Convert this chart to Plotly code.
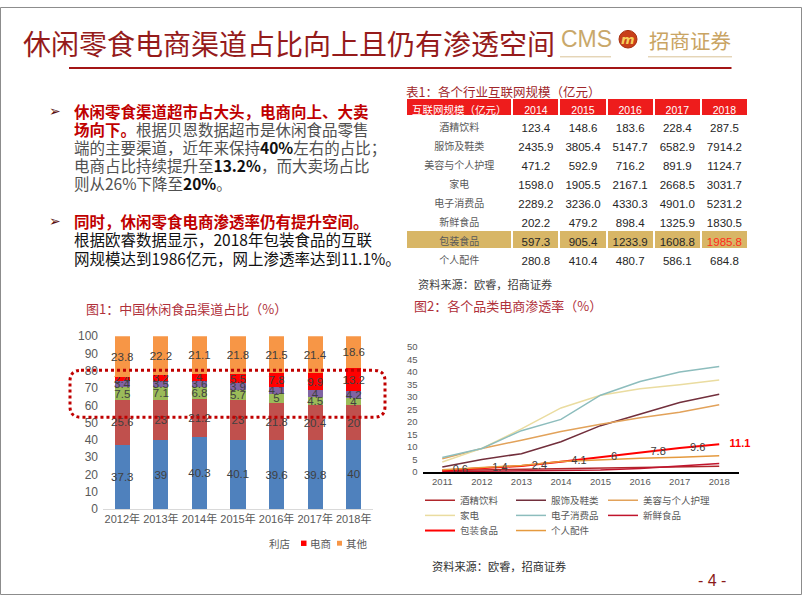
import plotly.graph_objects as go

W, H = 802, 602
def px(x): return x / W
def py(y): return 1 - y / H

CJK = "Noto Sans CJK SC"
SANS = "Liberation Sans, Noto Sans CJK SC"

# ---------------- Chart 1 data ----------------
years1 = ["2012年", "2013年", "2014年", "2015年", "2016年", "2017年", "2018年"]
supermarket = [37.3, 39, 40.3, 40.1, 39.6, 39.8, 40]
hypermarket = [25.6, 23, 21.2, 23, 21.8, 20.4, 20]
traditional = [7.5, 7.1, 6.8, 5.7, 5, 4.5, 4]
convenience = [3.4, 3.5, 3.6, 3.9, 4.1, 4, 4.2]
ecommerce = [2.4, 3.2, 4, 5.5, 7.8, 9.9, 13.2]
others = [23.8, 22.2, 21.1, 21.8, 21.5, 21.4, 18.6]
series1 = [
    ("超市", supermarket, "#4F81BD"),
    ("大卖场", hypermarket, "#C0504D"),
    ("传统渠道", traditional, "#9BBB59"),
    ("便利店", convenience, "#8064A2"),
    ("电商", ecommerce, "#FF0000"),
    ("其他", others, "#F79646"),
]

# ---------------- Chart 2 data ----------------
years2 = ["2011", "2012", "2013", "2014", "2015", "2016", "2017", "2018"]
alcohol = [0.6, 0.8, 1.0, 1.3, 1.5, 1.8, 2.0, 2.3]
apparel = [2.0, 5.0, 7.3, 12.1, 18.5, 23.0, 27.8, 31.1]
beauty = [5.3, 9.4, 12.7, 16.2, 19.1, 21.7, 23.9, 26.9]
appliances = [4.0, 9.4, 17.2, 25.6, 30.7, 33.3, 34.9, 36.8]
electronics = [5.8, 9.4, 16.5, 21.0, 30.7, 36.2, 40.0, 42.2]
fresh = [0.1, 0.2, 0.3, 0.5, 0.8, 1.4, 2.4, 3.4]
packaged = [0.6, 1.4, 2.4, 4.1, 6.0, 7.8, 9.6, 11.1]
accessories = [0.9, 1.6, 2.6, 4.2, 4.9, 5.5, 5.9, 6.5]
series2 = [
    ("酒精饮料", alcohol, "#B0262B", 1.5),
    ("服饰及鞋类", apparel, "#722F3C", 1.5),
    ("美容与个人护理", beauty, "#E2A25A", 1.5),
    ("家电", appliances, "#EADCA0", 1.5),
    ("电子消费品", electronics, "#8DBDBD", 1.5),
    ("新鲜食品", fresh, "#C0142C", 1.5),
    ("包装食品", packaged, "#FF0000", 2),
    ("个人配件", accessories, "#E59A3E", 1.5),
]

# ---------------- Table data ----------------
table_header = ["互联网规模（亿元）", "2014", "2015", "2016", "2017", "2018"]
table_cats = ["酒精饮料", "服饰及鞋类", "美容与个人护理", "家电", "电子消费品", "新鲜食品", "包装食品", "个人配件"]
t2014 = [123.4, 2435.9, 471.2, 1598.0, 2289.2, 202.2, 597.3, 280.8]
t2015 = [148.6, 3805.4, 592.9, 1905.5, 3236.0, 479.2, 905.4, 410.4]
t2016 = [183.6, 5147.7, 716.2, 2167.1, 4330.3, 898.4, 1233.9, 480.7]
t2017 = [228.4, 6582.9, 891.9, 2668.5, 4901.0, 1325.9, 1608.8, 586.1]
t2018 = [287.5, 7914.2, 1124.7, 3031.7, 5231.2, 1830.5, 1985.8, 684.8]

fig = go.Figure()

# ---- stacked bars ----
for name, vals, col in series1:
    fig.add_trace(go.Bar(
        x=years1, y=vals, name=name, marker_color=col, marker_line_width=0,
        text=[f"{v:g}" for v in vals], textposition="inside", insidetextanchor="middle",
        textangle=0, constraintext="none",
        textfont=dict(size=11.5, color="#404040", family=SANS),
        xaxis="x", yaxis="y", showlegend=False, cliponaxis=False,
    ))

# ---- lines (each legend entry in its own small legend, laid out in a 3-column grid) ----
legend_slots = [(420, 505), (511, 505), (603, 505),
                (420, 520.5), (511, 520.5), (603, 520.5),
                (420, 536), (511, 536)]
legend_defs = {}
for i, (name, vals, col, lw) in enumerate(series2):
    lg = "legend" if i == 0 else f"legend{i + 1}"
    lx, ly = legend_slots[i]
    legend_defs[lg] = dict(x=px(lx), y=py(ly), orientation="h", xanchor="left", yanchor="middle",
                           font=dict(size=9.5, color="#595959", family=CJK),
                           bgcolor="rgba(0,0,0,0)", itemwidth=30)
    fig.add_trace(go.Scatter(
        x=years2, y=vals, name=name, mode="lines",
        line=dict(color=col, width=lw),
        xaxis="x2", yaxis="y2", legend=lg, showlegend=True,
    ))

# data labels for 包装食品
pk_labels = [f"{v:g}" for v in packaged[:-1]] + [f"<b>{packaged[-1]:g}</b>"]
fig.add_trace(go.Scatter(
    x=years2, y=packaged, mode="markers+text", showlegend=False,
    marker=dict(size=15, color="rgba(0,0,0,0)"),
    text=pk_labels, textposition="middle right",
    textfont=dict(size=11, color=["#404040"] * 7 + ["#FF0000"], family=SANS),
    xaxis="x2", yaxis="y2", cliponaxis=False, hoverinfo="skip",
))

# ---- table ----
fmt = lambda arr: [f"{v:.1f}" for v in arr]
row_fill = ["white"] * 6 + ["#D8B666"] + ["white"]
fig.add_trace(go.Table(
    domain=dict(x=[px(406), px(748)], y=[py(268), py(93)]),
    columnwidth=[106, 47, 47, 47, 47, 47],
    header=dict(values=table_header, fill_color="#EE1C1C", height=18,
                line=dict(color="white", width=2), align="center",
                font=dict(color="white", size=10.5, family=SANS)),
    cells=dict(values=[table_cats, fmt(t2014), fmt(t2015), fmt(t2016), fmt(t2017), fmt(t2018)],
               fill_color=[row_fill] * 6, height=19,
               line=dict(color="white", width=2), align="center",
               font=dict(size=[10, 11.5, 11.5, 11.5, 11.5, 11.5],
                         color=[["#595959"] * 8] + [["#262626"] * 8] * 4 + [["#262626"] * 6 + ["#FF2A1A", "#262626"]],
                         family=SANS)),
))

annotations = []
def ann(x, y, text, size, color, anchor="left", family=CJK, yanchor="middle"):
    annotations.append(dict(x=px(x), y=py(y), xref="paper", yref="paper", text=text,
                            showarrow=False, xanchor=anchor, yanchor=yanchor,
                            font=dict(size=size, color=color, family=family)))

# Title
ann(21, 37, "休闲零食电商渠道占比向上且仍有渗透空间", 28, "#951B1B")
ann(559, 33, "CMS", 23, "#C9A86A", family="Liberation Sans")
ann(628, 33, "<b><i>m</i></b>", 13, "#F6CF5C", anchor="center", family="DejaVu Sans")
ann(647, 34, "招商证券", 20.5, "#C9A463")

# Body text
RED = "#C00000"
GRAY = "#505050"
ann(47, 106.5, "➢", 14, "#5A1010", family="DejaVu Sans")
ann(72, 106.5, "<b>休闲零食渠道超市占大头，电商向上、大卖</b>", 15.5, RED)
ann(72, 124.5, f"<b>场向下。</b><span style='color:{GRAY}'>根据贝恩数据超市是休闲食品零售</span>", 15.5, RED)
ann(72, 143, "端的主要渠道，近年来保持<b><span style='color:#111'>40%</span></b>左右的占比；", 15.5, GRAY)
ann(72, 161.5, "电商占比持续提升至<b><span style='color:#111'>13.2%</span></b>，而大卖场占比", 15.5, GRAY)
ann(72, 180, "则从26%下降至<b><span style='color:#111'>20%</span></b>。", 15.5, GRAY)
ann(47, 219.5, "➢", 14, "#5A1010", family="DejaVu Sans")
ann(72, 219.5, "<b>同时，休闲零食电商渗透率仍有提升空间。</b>", 15.5, RED)
ann(72, 238, "根据欧睿数据显示，2018年包装食品的互联", 15.5, "#111111")
ann(72, 256.5, "网规模达到1986亿元，网上渗透率达到11.1%。", 15.5, "#111111")

# Table title / source
ann(404, 87, "表1：各个行业互联网规模（亿元）", 12.5, "#A0262A")
ann(416, 284, "资料来源：欧睿，招商证券", 11.2, "#404040")

# Chart titles
ann(84, 308.5, "图1：中国休闲食品渠道占比（%）", 13, "#B0303A")
ann(412, 306, "图2：各个品类电商渗透率（%）", 13, "#B0303A")

# Left chart legend (partially clipped in original)
ann(267, 549, "利店", 10.5, "#595959")
ann(308, 549, "电商", 10.5, "#595959")
ann(344, 549, "其他", 10.5, "#595959")

# Right source and page number
ann(430, 572, "资料来源：欧睿，招商证券", 11.2, "#303030")
ann(712, 587.5, "- 4 -", 16, "#8B1A1A", anchor="center", family="Liberation Sans")

def rr_path(x0, y0, x1, y1, r):
    return (f"M{px(x0 + r)},{py(y0)} L{px(x1 - r)},{py(y0)} Q{px(x1)},{py(y0)} {px(x1)},{py(y0 + r)} "
            f"L{px(x1)},{py(y1 - r)} Q{px(x1)},{py(y1)} {px(x1 - r)},{py(y1)} "
            f"L{px(x0 + r)},{py(y1)} Q{px(x0)},{py(y1)} {px(x0)},{py(y1 - r)} "
            f"L{px(x0)},{py(y0 + r)} Q{px(x0)},{py(y0)} {px(x0 + r)},{py(y0)} Z")

shapes = [
    dict(type="rect", xref="paper", yref="paper", x0=px(0.5), x1=px(801.5), y0=py(601.5), y1=py(0.5),
         line=dict(color="#8C8C8C", width=1)),
    dict(type="line", xref="paper", yref="paper", x0=px(69), x1=px(731.5), y0=py(62.5), y1=py(62.5),
         line=dict(color="#A31515", width=2)),
    dict(type="line", xref="paper", yref="paper", x0=px(560), x1=px(611), y0=py(51), y1=py(51),
         line=dict(color="#D9C296", width=1)),
    dict(type="line", xref="paper", yref="paper", x0=px(648), x1=px(732), y0=py(51), y1=py(51),
         line=dict(color="#D9C296", width=1)),
    dict(type="circle", xref="paper", yref="paper", x0=px(619), x1=px(637), y0=py(42), y1=py(24),
         fillcolor="#C8401A", line=dict(color="#A83010", width=1), layer="below"),
    dict(type="path", xref="paper", yref="paper", path=rr_path(70, 372, 385, 420, 11),
         line=dict(color="#C00000", width=3, dash="dot"), layer="above"),
    dict(type="rect", xref="paper", yref="paper", x0=px(301), x1=px(306.5), y0=py(551.8), y1=py(546.3),
         fillcolor="#FF0000", line=dict(width=0)),
    dict(type="rect", xref="paper", yref="paper", x0=px(337), x1=px(342), y0=py(551.5), y1=py(546.5),
         fillcolor="#F79646", line=dict(width=0)),
]

fig.update_layout(
    width=W, height=H, margin=dict(l=0, r=0, t=0, b=0),
    paper_bgcolor="white", plot_bgcolor="white",
    barmode="stack", barnorm="percent", bargap=0.61,
    uniformtext=dict(minsize=11.5, mode="show"),
    font=dict(family=SANS),
    xaxis=dict(domain=[px(103), px(373)], range=[-0.5, 6.5], showline=True, linecolor="#D9D9D9",
               linewidth=1, showgrid=False, ticks="", tickfont=dict(size=11, color="#595959", family=SANS),
               anchor="y", fixedrange=True),
    yaxis=dict(domain=[py(514), py(337)], range=[0, 100], dtick=10, showgrid=False, zeroline=False,
               showline=False, ticks="", tickfont=dict(size=12, color="#595959", family=SANS),
               anchor="x", ticklabelstandoff=4),
    xaxis2=dict(domain=[px(422.5), px(739)], range=[-0.5, 7.5], type="category", showline=True,
                linecolor="#000000", linewidth=2, showgrid=False, ticks="",
                tickfont=dict(size=9.5, color="#595959", family=SANS), anchor="y2"),
    yaxis2=dict(domain=[py(476), py(348)], range=[0, 50], dtick=5, showgrid=False, zeroline=False,
                showline=False, ticks="", tickfont=dict(size=9.5, color="#595959", family=SANS),
                anchor="x2", ticklabelstandoff=4),
    annotations=annotations,
    shapes=shapes,
    **legend_defs,
)

fig.write_html("out.html", config={"displayModeBar": False},
               post_script="document.body.style.margin='0';")
